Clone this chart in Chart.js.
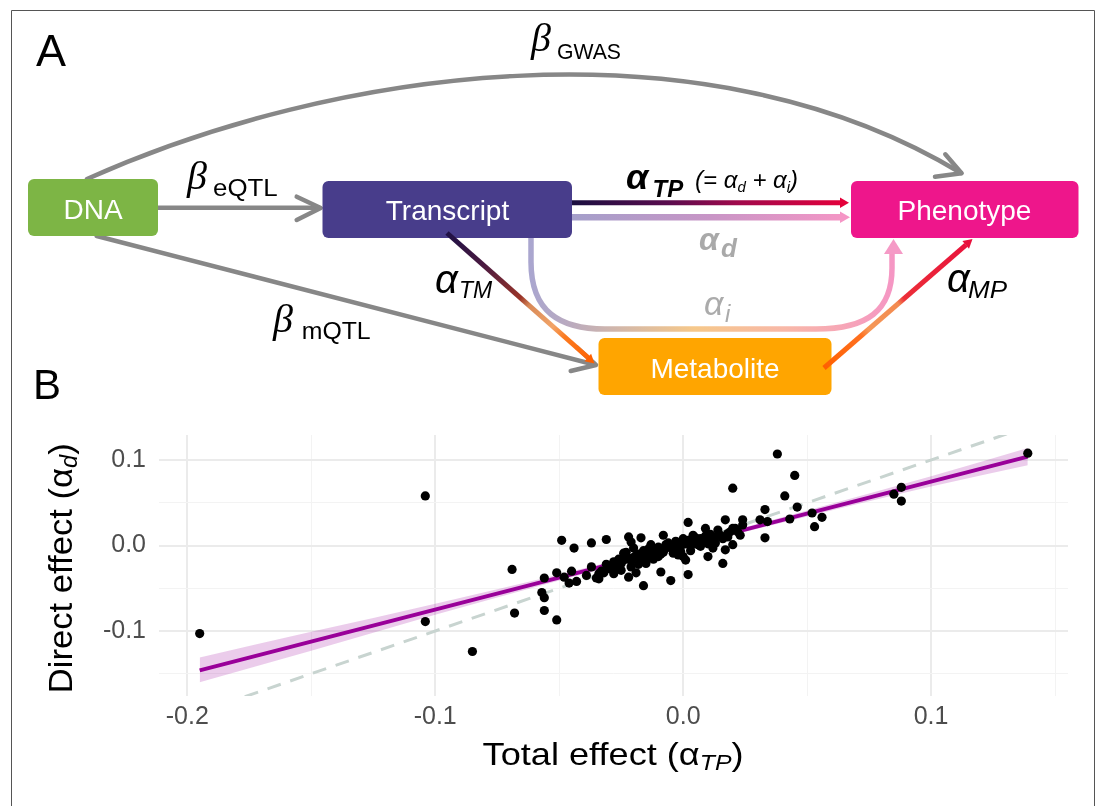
<!DOCTYPE html>
<html>
<head>
<meta charset="utf-8">
<script src="https://cdn.jsdelivr.net/npm/chart.js"></script>
<style>
  html, body { margin: 0; padding: 0; background: #fff; }
  #wrap { position: relative; width: 1098px; height: 806px; overflow: hidden; }
  #chart { position: absolute; left: 0; top: 0; }
  #diagram { position: absolute; left: 0; top: 0; pointer-events: none; }
</style>
</head>
<body>
<div id="wrap">
<canvas id="chart" width="1098" height="806"></canvas>
<svg id="diagram" width="1098" height="806" viewBox="0 0 1098 806" font-family="'Liberation Sans', Arial, sans-serif">
  <defs>
    <linearGradient id="gTP" gradientUnits="userSpaceOnUse" x1="572" y1="0" x2="848" y2="0">
      <stop offset="0" stop-color="#1a0f40"/>
      <stop offset="0.35" stop-color="#5a0c4e"/>
      <stop offset="0.6" stop-color="#a0094b"/>
      <stop offset="1" stop-color="#e6003b"/>
    </linearGradient>
    <linearGradient id="gD" gradientUnits="userSpaceOnUse" x1="572" y1="0" x2="848" y2="0">
      <stop offset="0" stop-color="#a49fca"/>
      <stop offset="0.5" stop-color="#c895c6"/>
      <stop offset="1" stop-color="#f596c5"/>
    </linearGradient>
    <linearGradient id="gTM" gradientUnits="userSpaceOnUse" x1="447" y1="233" x2="594" y2="363">
      <stop offset="0" stop-color="#1e1045"/>
      <stop offset="0.25" stop-color="#4a1a40"/>
      <stop offset="0.5" stop-color="#9a3428"/>
      <stop offset="0.56" stop-color="#d88a58"/>
      <stop offset="0.72" stop-color="#f2a468"/>
      <stop offset="0.8" stop-color="#fb7a20"/>
      <stop offset="1" stop-color="#ff6000"/>
    </linearGradient>
    <linearGradient id="gMP" gradientUnits="userSpaceOnUse" x1="824" y1="368" x2="972" y2="239">
      <stop offset="0" stop-color="#ff6000"/>
      <stop offset="0.25" stop-color="#ff7020"/>
      <stop offset="0.3" stop-color="#f59858"/>
      <stop offset="0.5" stop-color="#f38a50"/>
      <stop offset="0.54" stop-color="#ec2e38"/>
      <stop offset="1" stop-color="#e8103c"/>
    </linearGradient>
    <linearGradient id="gI" gradientUnits="userSpaceOnUse" x1="531" y1="0" x2="894" y2="0">
      <stop offset="0" stop-color="#aaa6cf"/>
      <stop offset="0.1" stop-color="#b9aac0"/>
      <stop offset="0.25" stop-color="#d4b8a8"/>
      <stop offset="0.45" stop-color="#f6c88a"/>
      <stop offset="0.7" stop-color="#f8b8a8"/>
      <stop offset="1" stop-color="#f596c4"/>
    </linearGradient>
  </defs>

  <!-- frame -->
  <path d="M11.5,806 V10.5 H1094.5 V806" fill="none" stroke="#555" stroke-width="1"/>
  <text x="36" y="65.7" font-size="45">A</text>
  <text x="33" y="399" font-size="42">B</text>

  <!-- gray genetic arrows -->
  <g stroke="#878787" stroke-width="4.5" fill="none" stroke-linecap="round" stroke-linejoin="round">
    <path d="M87,179 C330,70 700,15 961,173"/>
    <polyline points="945.3,154.3 961.6,173.3 935,176.7"/>
    <path d="M158,207.7 H319"/>
    <polyline points="296.7,196.7 320.7,208 296.7,220"/>
    <path d="M96.7,236 L594,364.5"/>
    <polyline points="576.8,347.4 596,365 570.7,371"/>
  </g>

  <!-- boxes -->
  <rect x="28" y="179" width="130" height="57" rx="6" fill="#7db545"/>
  <rect x="322.5" y="181" width="249.5" height="57" rx="6" fill="#483d8b"/>
  <rect x="851" y="181" width="227.5" height="57" rx="6" fill="#ee168b"/>
  <rect x="598.5" y="338" width="233" height="57" rx="6" fill="#ffa500"/>
  <g fill="#fff" font-size="28" text-anchor="middle">
    <text x="93" y="219">DNA</text>
    <text x="447.5" y="220">Transcript</text>
    <text x="964.5" y="220">Phenotype</text>
    <text x="715" y="378">Metabolite</text>
  </g>

  <!-- effect arrows -->
  <path d="M572,202.7 H841" stroke="url(#gTP)" stroke-width="5" fill="none"/>
  <polygon points="840,197.5 849,202.7 840,208" fill="#e4003a"/>
  <path d="M572,217.3 H841" stroke="url(#gD)" stroke-width="6.5" fill="none"/>
  <polygon points="840,211.5 850,217.3 840,223" fill="#f596c6"/>
  <path d="M447,233 L588,357.5" stroke="url(#gTM)" stroke-width="5" fill="none"/>
  <polygon points="584.5,361.2 594.5,363.5 591.1,353.8" fill="#ff6000"/>
  <path d="M824,368 L966,244.9" stroke="url(#gMP)" stroke-width="5" fill="none"/>
  <polygon points="969,248.7 972.5,239 962.4,241.1" fill="#e8103c"/>
  <path d="M531,238 V262 C531,312 560,329 605,329 H816 C868,329 892,310 892,268 V253" stroke="url(#gI)" stroke-width="5.5" fill="none"/>
  <polygon points="884,254 893.5,239 903,254" fill="#f59ac6"/>

  <!-- labels -->
  <g font-family="'Liberation Serif', 'Times New Roman', serif" font-style="italic" font-size="40">
    <text x="531" y="51">β</text>
    <text x="187" y="189">β</text>
    <text x="273" y="332">β</text>
  </g>
  <text x="557" y="59.3" font-size="22" textLength="64" lengthAdjust="spacingAndGlyphs">GWAS</text>
  <text x="213" y="196" font-size="23" textLength="64.7" lengthAdjust="spacingAndGlyphs">eQTL</text>
  <text x="301.7" y="339" font-size="23" textLength="69" lengthAdjust="spacingAndGlyphs">mQTL</text>

  <g font-style="italic">
    <text x="626" y="189.3" font-size="36" font-weight="bold">α</text>
    <text x="652.6" y="196.7" font-size="24" font-weight="bold">TP</text>
    <text x="695" y="188" font-size="24">(= α<tspan font-size="15" dy="4">d</tspan><tspan dy="-4"> + α</tspan><tspan font-size="15" dy="4">i</tspan><tspan dy="-4">)</tspan></text>
    <text x="699" y="250" font-size="32" font-weight="bold" fill="#a9a9a9">α</text>
    <text x="721" y="257" font-size="26" font-weight="bold" fill="#a9a9a9">d</text>
    <text x="704" y="315" font-size="34" fill="#ababab">α</text>
    <text x="725" y="322" font-size="24" fill="#ababab">i</text>
    <text x="435" y="292.7" font-size="40">α</text>
    <text x="459" y="298.3" font-size="23">TM</text>
    <text x="947" y="291.7" font-size="40">α</text>
    <text x="968" y="297.7" font-size="24" textLength="39" lengthAdjust="spacingAndGlyphs">MP</text>
  </g>

  <!-- axis titles of panel B -->
  <text x="482.6" y="765" font-size="32" textLength="261" lengthAdjust="spacingAndGlyphs">Total effect (α<tspan font-size="22" font-style="italic" dy="5">TP</tspan><tspan dy="-5">)</tspan></text>
  <text transform="translate(72,693.3) rotate(-90)" font-size="34" textLength="250" lengthAdjust="spacingAndGlyphs">Direct effect (α<tspan font-size="23" font-style="italic" dy="5">d</tspan><tspan dy="-5">)</tspan></text>
</svg>
</div>

<script>
// total effect (alpha_TP) and direct effect (alpha_d), one value per gene
const totalEffect = [
  -0.195, -0.104, -0.104, -0.085, -0.069, -0.068, -0.056, -0.057, -0.056, -0.056,
  -0.051, -0.049, -0.044, -0.037, -0.031, -0.051, -0.048, -0.046, -0.045, -0.043,
  -0.039, -0.037, -0.035, -0.034, -0.032, -0.028, -0.027, -0.024, -0.025, -0.022,
  -0.022, -0.021, -0.017, -0.016, -0.019, -0.020, -0.025, -0.027, -0.034, -0.033,
  -0.029, -0.023, -0.017, -0.015, -0.013, -0.011, -0.009, -0.008, -0.007, -0.005,
  -0.006, -0.004, -0.003, -0.001, 0.002, 0.002, 0.001, 0.004, 0.006, 0.009,
  0.010, 0.016, 0.017, 0.020, 0.020, 0.017, 0.024, 0.024, 0.023, 0.020,
  0.033, 0.031, 0.033, 0.034, 0.038, 0.045, 0.041, 0.046, 0.043, 0.052,
  0.053, 0.056, 0.085, 0.088, 0.088, 0.139, -0.017, -0.015, -0.011, -0.010,
  -0.002, -0.001, 0.000, 0.003, 0.006, 0.007, 0.011, 0.013, 0.014, 0.018,
  0.021, 0.012, 0.018, 0.000, -0.004, 0.007, -0.012, -0.008, -0.019, -0.030,
  -0.026, -0.021, -0.018, -0.014, -0.012, -0.009, -0.007, -0.028, -0.024, -0.022,
  -0.020, -0.018, -0.016, -0.014, -0.010, -0.008, -0.006, -0.003, -0.002, 0.001,
  0.002, 0.004, 0.005, 0.008, 0.009, 0.011, 0.013, 0.015, 0.016, 0.019,
  0.022, -0.026, -0.021, -0.031, -0.012, 0.003, 0.010
];
const directEffect = [
  -0.103, 0.058, -0.089, -0.124, -0.028, -0.079, -0.038, -0.055, -0.061, -0.076,
  -0.087, 0.006, -0.003, 0.003, 0.007, -0.032, -0.037, -0.044, -0.030, -0.042,
  -0.035, -0.025, -0.038, -0.033, -0.032, -0.033, -0.024, -0.009, -0.021, 0.010,
  -0.037, 0.004, 0.009, -0.047, -0.032, -0.003, -0.029, -0.021, -0.039, -0.030,
  -0.025, -0.008, -0.013, -0.009, 0.001, -0.005, -0.031, 0.012, -0.003, -0.041,
  0.003, -0.005, 0.005, -0.007, 0.027, -0.034, -0.017, 0.012, 0.001, 0.020,
  -0.013, -0.021, 0.030, 0.067, 0.001, -0.005, 0.030, 0.024, 0.012, 0.020,
  0.009, 0.030, 0.042, 0.028, 0.107, 0.082, 0.058, 0.045, 0.031, 0.038,
  0.022, 0.033, 0.060, 0.068, 0.052, 0.108, -0.017, -0.021, -0.007, -0.013,
  -0.011, -0.001, 0.008, -0.001, 0.003, 0.008, 0.008, 0.003, 0.018, 0.014,
  0.020, -0.003, 0.010, -0.013, -0.009, -0.001, -0.016, -0.008, -0.012, -0.027,
  -0.016, -0.018, -0.022, -0.014, -0.005, -0.010, 0.001, -0.019, -0.017, -0.015,
  -0.014, -0.010, -0.006, -0.004, -0.002, -0.004, -0.001, 0.000, 0.003, 0.002,
  0.006, 0.004, 0.009, 0.005, 0.011, 0.013, 0.010, 0.012, 0.008, 0.016,
  0.016, -0.026, -0.025, -0.022, -0.010, -0.006, 0.002
];

// regression line and its confidence band
const fitX = [-0.195, 0.139];
const fitY = [-0.146, 0.104];
const bandX    = [-0.195, -0.15, -0.1, -0.05, 0.0, 0.05, 0.1, 0.139];
const bandHigh = [-0.131, -0.101, -0.068, -0.034, 0.0025, 0.041, 0.081, 0.114];
const bandLow  = [-0.160, -0.123, -0.081, -0.041, -0.0022, 0.034, 0.069, 0.094];

// y = x reference
const identityX = [-0.25, 0.2];

// axes
const xTicks = [-0.2, -0.1, 0.0, 0.1];
const xTickLabels = ['-0.2', '-0.1', '0.0', '0.1'];
const xMinor = [-0.15, -0.05, 0.05, 0.15];
const yTicks = [-0.1, 0.0, 0.1];
const yTickLabels = ['-0.1', '0.0', '0.1'];
const yMinor = [-0.15, -0.05, 0.05];

const xMin = -0.21141, xMax = 0.15522;
const yMin = -0.17602, yMax = 0.12924;

const tickFont = { family: "'Liberation Sans', Arial, sans-serif", size: 25 };

function isMajor(list, v) {
  return list.findIndex(t => Math.abs(t - v) < 1e-9);
}

function gridOpts(major) {
  return {
    drawTicks: false,
    color: ctx => isMajor(major, ctx.tick.value) >= 0 ? '#ebebeb' : '#f3f3f3',
    lineWidth: ctx => isMajor(major, ctx.tick.value) >= 0 ? 2 : 1
  };
}

new Chart(document.getElementById('chart'), {
  type: 'scatter',
  data: {
    datasets: [
      {
        label: 'genes',
        data: totalEffect.map((x, i) => ({ x: x, y: directEffect[i] })),
        pointRadius: 4.6,
        pointBackgroundColor: '#000',
        pointBorderWidth: 0
      },
      {
        type: 'line',
        label: 'fit',
        data: fitX.map((x, i) => ({ x: x, y: fitY[i] })),
        borderColor: '#990099',
        borderWidth: 4,
        pointRadius: 0,
        fill: false
      },
      {
        type: 'line',
        label: 'ci high',
        data: bandX.map((x, i) => ({ x: x, y: bandHigh[i] })),
        borderColor: 'transparent',
        borderWidth: 0,
        pointRadius: 0,
        cubicInterpolationMode: 'monotone',
        backgroundColor: 'rgba(153, 0, 153, 0.2)',
        fill: '+1'
      },
      {
        type: 'line',
        label: 'ci low',
        data: bandX.map((x, i) => ({ x: x, y: bandLow[i] })),
        borderColor: 'transparent',
        borderWidth: 0,
        pointRadius: 0,
        cubicInterpolationMode: 'monotone',
        fill: false
      },
      {
        type: 'line',
        label: 'identity',
        data: identityX.map(x => ({ x: x, y: x })),
        borderColor: '#c8d4d0',
        borderWidth: 3,
        borderDash: [14, 10],
        pointRadius: 0,
        fill: false
      }
    ]
  },
  options: {
    responsive: false,
    animation: false,
    devicePixelRatio: 1,
    layout: { padding: { left: 0, top: 435, right: 30, bottom: 0 } },
    plugins: { legend: { display: false }, tooltip: { enabled: false } },
    scales: {
      x: {
        type: 'linear',
        min: xMin,
        max: xMax,
        afterBuildTicks: s => { s.ticks = xTicks.concat(xMinor).sort((a, b) => a - b).map(v => ({ value: v })); },
        afterFit: s => { s.height = 110; },
        border: { display: false },
        grid: gridOpts(xTicks),
        ticks: {
          autoSkip: false, maxRotation: 0, padding: 6, color: '#4d4d4d', font: tickFont,
          callback: v => { const i = isMajor(xTicks, v); return i >= 0 ? xTickLabels[i] : ''; }
        }
      },
      y: {
        type: 'linear',
        min: yMin,
        max: yMax,
        afterBuildTicks: s => { s.ticks = yTicks.concat(yMinor).sort((a, b) => a - b).map(v => ({ value: v })); },
        afterFit: s => { s.width = 159; },
        border: { display: false },
        grid: gridOpts(yTicks),
        ticks: {
          autoSkip: false, padding: 13, color: '#4d4d4d', font: tickFont,
          callback: v => { const i = isMajor(yTicks, v); return i >= 0 ? yTickLabels[i] : ''; }
        }
      }
    }
  }
});
</script>
</body>
</html>
